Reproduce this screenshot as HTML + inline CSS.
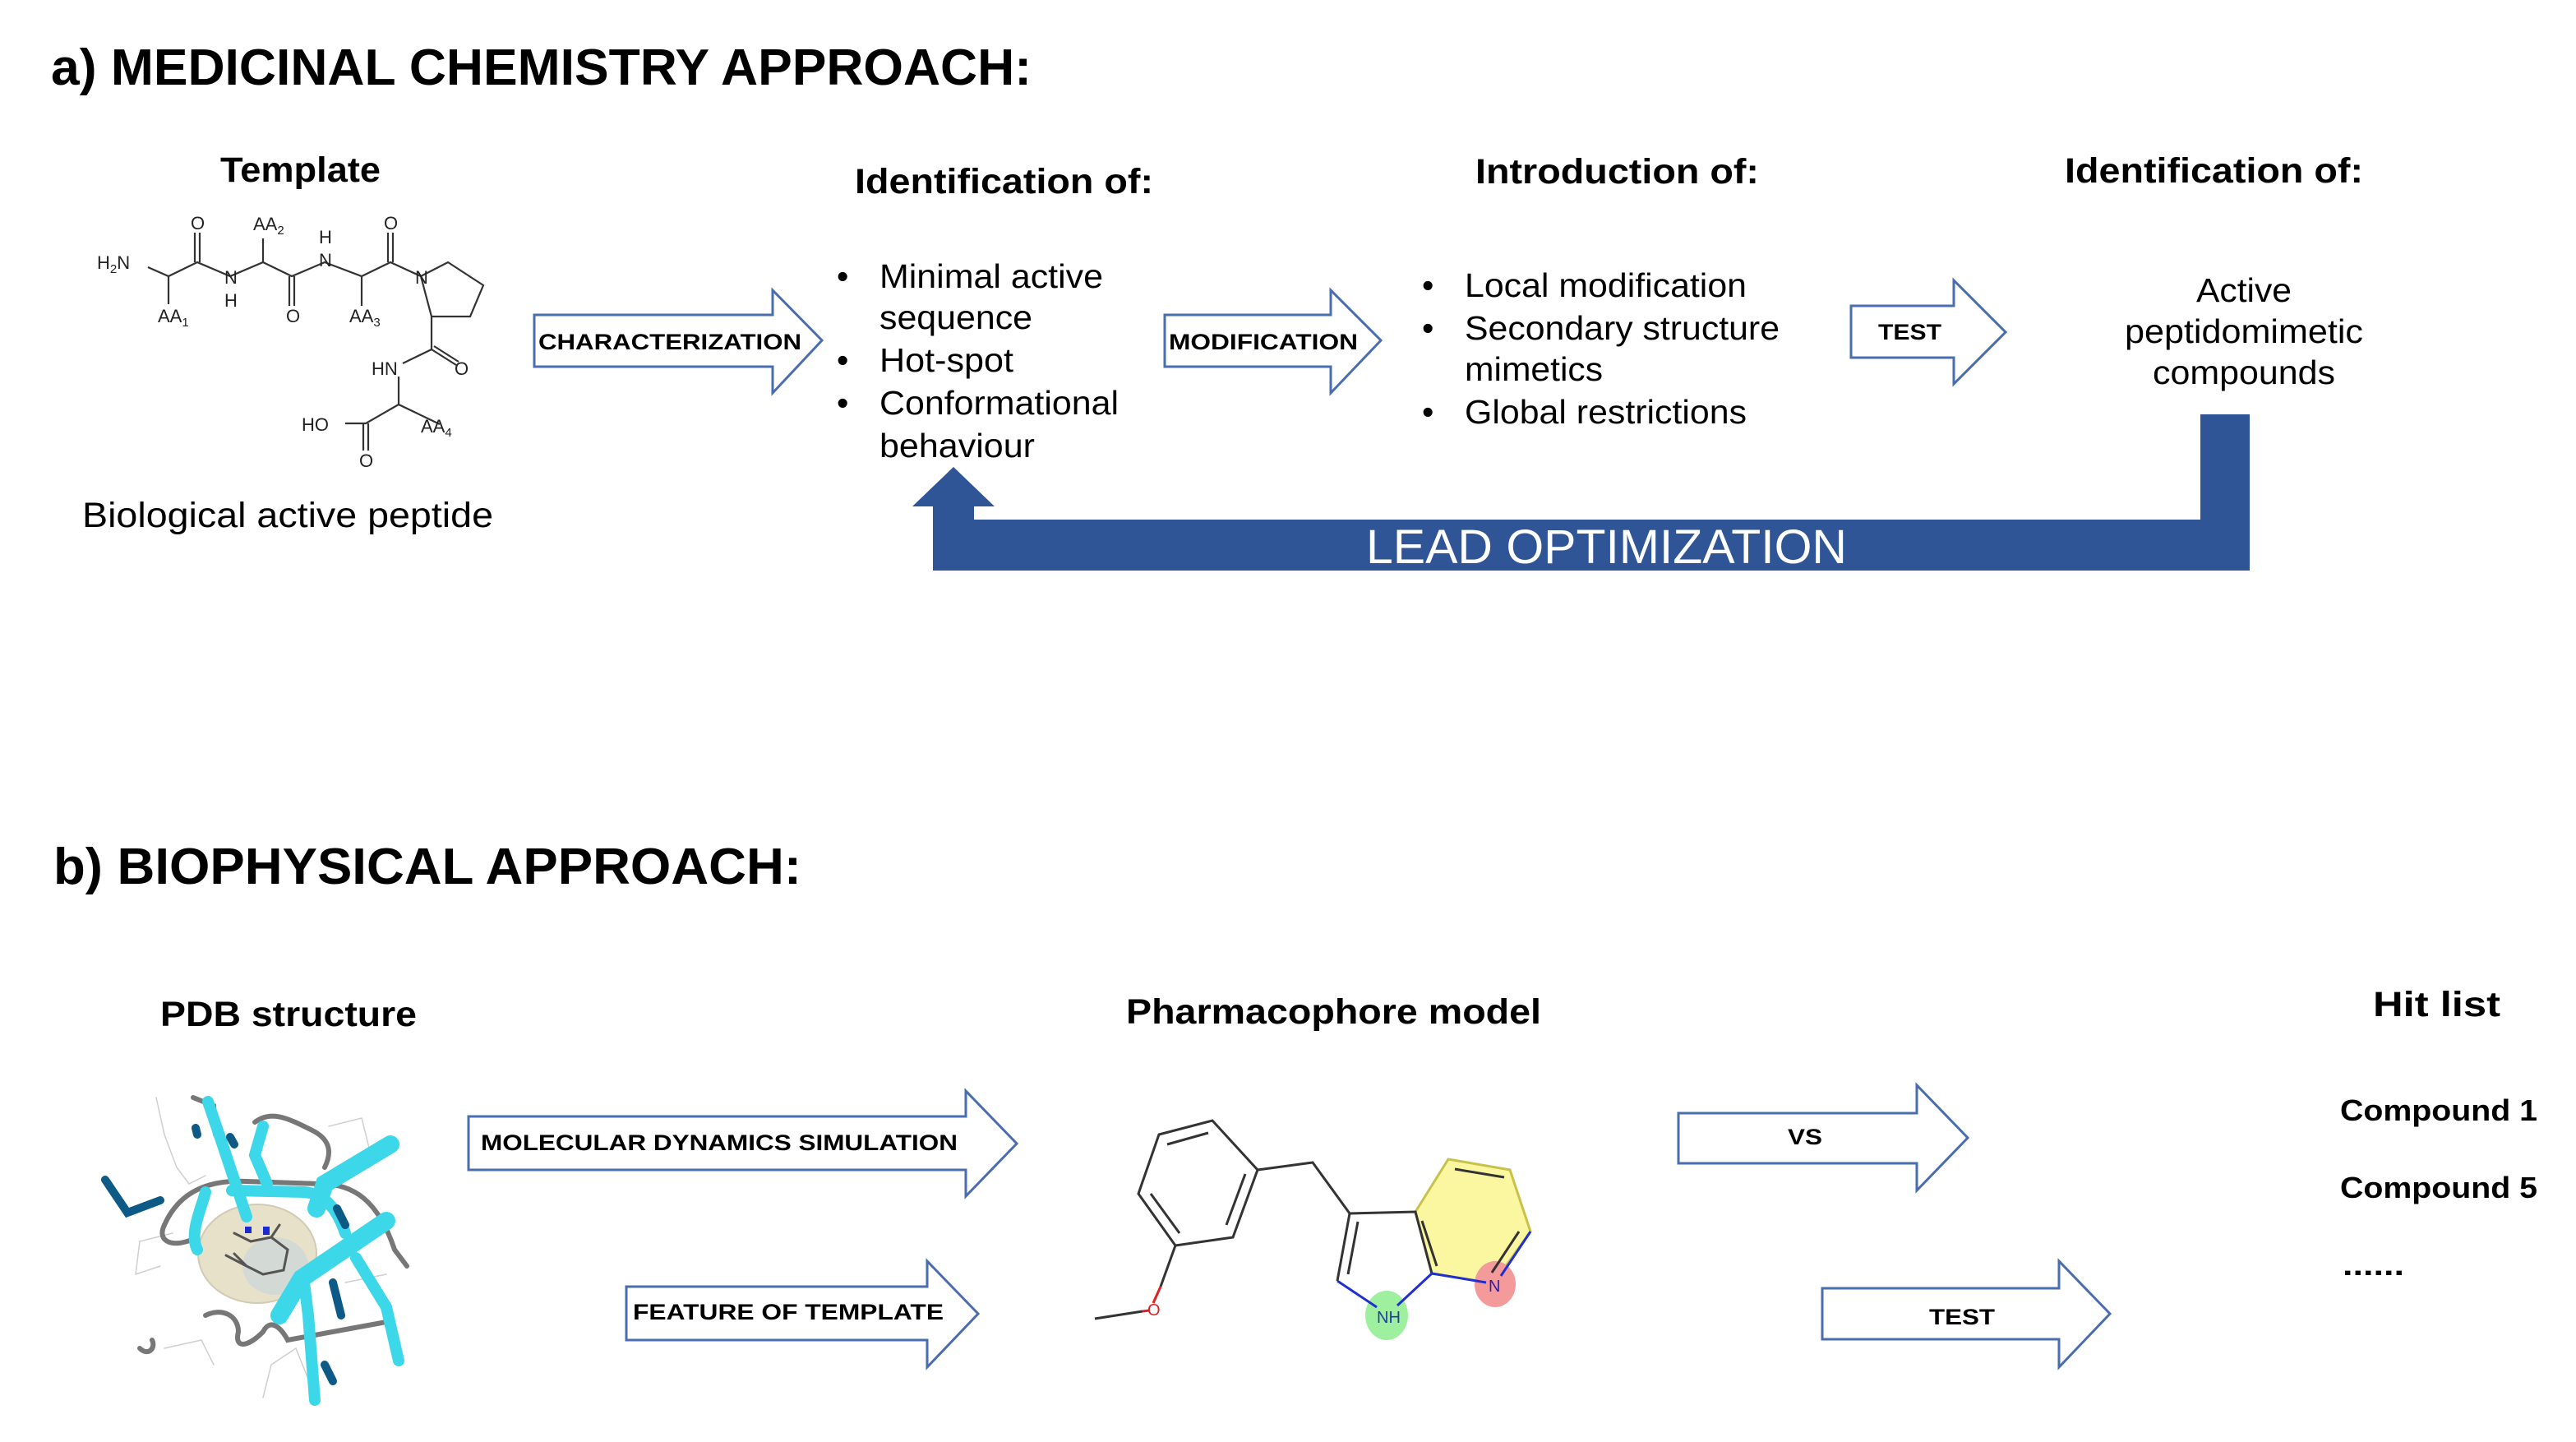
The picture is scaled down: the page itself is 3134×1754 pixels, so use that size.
<!DOCTYPE html>
<html><head><meta charset="utf-8"><style>
html,body{margin:0;padding:0;background:#fff;}
svg{display:block;}
text{font-family:"Liberation Sans",Arial,sans-serif;}
.b{font-weight:bold;}
.ar{fill:#fff;stroke:#4a6db0;stroke-width:3;}
.bd{stroke:#333;stroke-width:2.2;fill:none;}
.ch{font-size:22px;fill:#222;}
</style></head><body>
<svg width="3134" height="1754" viewBox="0 0 3134 1754" xmlns="http://www.w3.org/2000/svg">
<rect width="3134" height="1754" fill="#fff"/>

<!-- Section a -->
<text x="62" y="103" class="b" font-size="62" textLength="1193" lengthAdjust="spacingAndGlyphs">a) MEDICINAL CHEMISTRY APPROACH:</text>
<text x="268" y="221" class="b" font-size="43" textLength="195" lengthAdjust="spacingAndGlyphs">Template</text>

<!-- peptide structure -->
<g class="bd">
<path d="M180 325 L205 336 L240 319 L280 336 L320 319 L355 336 L395 319 L440 336 L475 319 L512 336"/>
<path d="M237 319 V283 M243 319 V283"/>
<path d="M205 336 V370"/>
<path d="M320 319 V290"/>
<path d="M352 336 V372 M358 336 V372"/>
<path d="M440 336 V372"/>
<path d="M472 319 V283 M478 319 V283"/>
<path d="M512 336 L545 319 L588 347 L572 385 L525 385 Z"/>
<path d="M525 385 L525 425 L490 442 M525 425 L555 444 M528 421 L558 440"/>
<path d="M485 458 L485 492 L535 516 M485 492 L445 515 L420 515 M442 515 V548 M448 515 V548"/>
</g>
<text x="118" y="327" class="ch">H<tspan font-size="15" dy="5">2</tspan><tspan dy="-5">N</tspan></text>
<text x="232" y="279" class="ch">O</text>
<text x="273" y="345" class="ch">N</text>
<text x="273" y="373" class="ch">H</text>
<text x="192" y="392" class="ch">AA<tspan font-size="15" dy="5">1</tspan></text>
<text x="308" y="280" class="ch">AA<tspan font-size="15" dy="5">2</tspan></text>
<text x="348" y="392" class="ch">O</text>
<text x="388" y="296" class="ch">H</text>
<text x="388" y="324" class="ch">N</text>
<text x="425" y="392" class="ch">AA<tspan font-size="15" dy="5">3</tspan></text>
<text x="467" y="279" class="ch">O</text>
<text x="505" y="345" class="ch">N</text>
<text x="452" y="456" class="ch">HN</text>
<text x="553" y="456" class="ch">O</text>
<text x="367" y="524" class="ch">HO</text>
<text x="512" y="526" class="ch">AA<tspan font-size="15" dy="5">4</tspan></text>
<text x="437" y="568" class="ch">O</text>

<text x="100" y="641" font-size="43" textLength="500" lengthAdjust="spacingAndGlyphs">Biological active peptide</text>

<!-- CHARACTERIZATION arrow -->
<path class="ar" d="M650 383 H940 V353 L1000 414 L940 478 V446 H650 Z"/>
<text x="655" y="425" class="b" font-size="27" textLength="320" lengthAdjust="spacingAndGlyphs">CHARACTERIZATION</text>

<text x="1040" y="235" class="b" font-size="43" textLength="363" lengthAdjust="spacingAndGlyphs">Identification of:</text>
<g font-size="41">
<text x="1018" y="350">•</text><text x="1070" y="350" textLength="272" lengthAdjust="spacingAndGlyphs">Minimal active</text>
<text x="1070" y="400" textLength="186" lengthAdjust="spacingAndGlyphs">sequence</text>
<text x="1018" y="452">•</text><text x="1070" y="452" textLength="163" lengthAdjust="spacingAndGlyphs">Hot-spot</text>
<text x="1018" y="504">•</text><text x="1070" y="504" textLength="291" lengthAdjust="spacingAndGlyphs">Conformational</text>
<text x="1070" y="556" textLength="189" lengthAdjust="spacingAndGlyphs">behaviour</text>
</g>

<!-- MODIFICATION arrow -->
<path class="ar" d="M1417 383 H1619 V353 L1680 414 L1619 478 V446 H1417 Z"/>
<text x="1422" y="425" class="b" font-size="27" textLength="230" lengthAdjust="spacingAndGlyphs">MODIFICATION</text>

<text x="1795" y="223" class="b" font-size="43" textLength="345" lengthAdjust="spacingAndGlyphs">Introduction of:</text>
<g font-size="41">
<text x="1730" y="361">•</text><text x="1782" y="361" textLength="343" lengthAdjust="spacingAndGlyphs">Local modification</text>
<text x="1730" y="413">•</text><text x="1782" y="413" textLength="383" lengthAdjust="spacingAndGlyphs">Secondary structure</text>
<text x="1782" y="463" textLength="168" lengthAdjust="spacingAndGlyphs">mimetics</text>
<text x="1730" y="515">•</text><text x="1782" y="515" textLength="343" lengthAdjust="spacingAndGlyphs">Global restrictions</text>
</g>

<!-- TEST arrow a -->
<path class="ar" d="M2252 372 H2377 V341 L2440 404 L2377 467 V435 H2252 Z"/>
<text x="2285" y="413" class="b" font-size="27" textLength="77" lengthAdjust="spacingAndGlyphs">TEST</text>

<text x="2512" y="222" class="b" font-size="43" textLength="363" lengthAdjust="spacingAndGlyphs">Identification of:</text>
<g font-size="41" text-anchor="middle">
<text x="2730" y="367" textLength="116" lengthAdjust="spacingAndGlyphs">Active</text>
<text x="2730" y="417" textLength="290" lengthAdjust="spacingAndGlyphs">peptidomimetic</text>
<text x="2730" y="467" textLength="222" lengthAdjust="spacingAndGlyphs">compounds</text>
</g>

<!-- LEAD OPTIMIZATION -->
<path fill="#2f5597" d="M1160 568 L1210 616 H1185 V632 H2677 V504 H2737 V694 H1135 V616 H1110 Z"/>
<text x="1662" y="685" fill="#fff" font-size="58" textLength="585" lengthAdjust="spacingAndGlyphs">LEAD OPTIMIZATION</text>

<!-- Section b -->
<text x="65" y="1075" class="b" font-size="62" textLength="910" lengthAdjust="spacingAndGlyphs">b) BIOPHYSICAL  APPROACH:</text>
<text x="195" y="1248" class="b" font-size="43" textLength="312" lengthAdjust="spacingAndGlyphs">PDB structure</text>

<!-- protein -->
<g fill="none" stroke-linecap="round">
<g stroke="#cfcfcf" stroke-width="1.5">
<path d="M190 1335 L200 1380 L215 1420 L230 1440 L250 1430 M210 1500 L170 1510 L165 1550 L195 1540 M200 1640 L245 1630 L260 1660 M320 1700 L330 1660 L360 1640 L380 1690 M400 1370 L440 1360 L450 1400 M420 1560 L470 1550"/>
</g>
<g stroke="#777" stroke-width="6">
<path d="M235 1335 L260 1345 L262 1380"/>
<path d="M310 1365 C330 1350 350 1360 380 1375 C400 1385 405 1400 395 1420"/>
<path d="M200 1490 C220 1445 260 1435 300 1437 L390 1440 C430 1440 460 1460 480 1520 L495 1540"/>
<path d="M200 1490 C190 1510 210 1520 240 1505"/>
<path d="M170 1640 C180 1650 190 1640 185 1630"/>
<path d="M250 1600 C270 1590 290 1600 290 1620 C285 1640 300 1640 320 1620 C330 1600 345 1620 350 1630 L470 1608"/>
</g>
<ellipse cx="313" cy="1525" rx="72" ry="60" fill="#e3dcc0" stroke="#c9c3a8" stroke-width="2" opacity="0.85"/>
<ellipse cx="335" cy="1540" rx="40" ry="35" fill="#c6d6e0" opacity="0.6"/>
<g stroke="#555" stroke-width="3">
<path d="M285 1500 L305 1510 L330 1505 L350 1520 L345 1545 L320 1550 L300 1540 L285 1525 M275 1527 L300 1540 M330 1505 L340 1490"/>
</g>
<rect x="298" y="1492" width="8" height="8" fill="#1a2acc"/><rect x="320" y="1492" width="8" height="10" fill="#1a2acc"/>
<g stroke="#3dd7ea" stroke-width="14">
<path d="M253 1340 L270 1390 L300 1480"/>
<path d="M320 1370 L310 1405 L325 1440"/>
<path d="M282 1448 L370 1450 C395 1452 410 1470 420 1500"/>
<path d="M383 1703 L375 1600 L370 1560"/>
<path d="M433 1530 L470 1590 L485 1655"/>
<path d="M240 1520 C230 1500 245 1470 250 1450"/>
</g>
<g stroke="#3dd7ea" stroke-width="22">
<path d="M475 1392 L395 1440 L385 1470"/>
<path d="M470 1485 L367 1555 L340 1600"/>
</g>
<g stroke="#0e5a86" stroke-width="10">
<path d="M128 1435 L155 1475 L195 1460"/>
<path d="M238 1372 L240 1380 M280 1383 L285 1392"/>
<path d="M410 1470 L420 1490 M405 1560 L415 1600"/>
<path d="M395 1660 L405 1680"/>
</g>
</g>

<!-- MD arrow -->
<path class="ar" d="M570 1358 H1175 V1327 L1237 1391 L1175 1455 V1423 H570 Z"/>
<text x="585" y="1399" class="b" font-size="27" textLength="580" lengthAdjust="spacingAndGlyphs">MOLECULAR DYNAMICS SIMULATION</text>

<!-- Feature arrow -->
<path class="ar" d="M762 1565 H1128 V1534 L1190 1598 L1128 1663 V1630 H762 Z"/>
<text x="770" y="1605" class="b" font-size="27" textLength="378" lengthAdjust="spacingAndGlyphs">FEATURE OF TEMPLATE</text>

<text x="1370" y="1245" class="b" font-size="43" textLength="505" lengthAdjust="spacingAndGlyphs">Pharmacophore model</text>

<!-- pharmacophore molecule -->
<path d="M1722 1474 L1762 1410 L1837 1423 L1862 1498 L1817 1561 L1742 1549 Z" fill="#fbf7a0" stroke="#c8c24a" stroke-width="3"/>
<ellipse cx="1687" cy="1600" rx="26" ry="30" fill="#9ef09e"/>
<ellipse cx="1819" cy="1562" rx="25" ry="28" fill="#f59a9a"/>
<g stroke="#333" stroke-width="3" fill="none">
<path d="M1410 1380 L1475 1363 L1530 1423 L1500 1505 L1430 1515 L1385 1452 Z"/>
<path d="M1420 1392 L1470 1378 M1515 1428 L1492 1490 M1435 1500 L1400 1452"/>
<path d="M1530 1423 L1597 1414 L1642 1476 L1722 1474 L1742 1549"/>
<path d="M1642 1476 L1627 1558 M1652 1486 L1640 1550"/>
<path d="M1730 1485 L1748 1540 M1770 1422 L1830 1432 M1848 1498 L1815 1548"/>
<path d="M1430 1515 L1412 1565"/>
</g>
<path d="M1412 1565 L1403 1585" stroke="#e02020" stroke-width="3"/>
<path d="M1332 1604 L1390 1595" stroke="#333" stroke-width="3"/>
<path d="M1390 1595 L1398 1594" stroke="#e02020" stroke-width="3"/>
<text x="1396" y="1600" font-size="20" fill="#e02020">O</text>
<path d="M1627 1558 L1675 1590" stroke="#2030d0" stroke-width="3"/>
<path d="M1742 1549 L1700 1588" stroke="#2030d0" stroke-width="3"/>
<path d="M1742 1549 L1808 1560" stroke="#2030d0" stroke-width="3"/>
<path d="M1862 1498 L1826 1552" stroke="#2030d0" stroke-width="3"/>
<text x="1675" y="1609" font-size="20" fill="#2040a0">NH</text>
<text x="1811" y="1571" font-size="20" fill="#3020a0">N</text>

<!-- VS arrow -->
<path class="ar" d="M2042 1354 H2332 V1320 L2394 1384 L2332 1448 V1415 H2042 Z"/>
<text x="2175" y="1392" class="b" font-size="27" textLength="42" lengthAdjust="spacingAndGlyphs">VS</text>

<!-- TEST arrow b -->
<path class="ar" d="M2217 1567 H2505 V1534 L2567 1598 L2505 1663 V1629 H2217 Z"/>
<text x="2347" y="1611" class="b" font-size="27" textLength="80" lengthAdjust="spacingAndGlyphs">TEST</text>

<text x="2887" y="1236" class="b" font-size="43" textLength="155" lengthAdjust="spacingAndGlyphs">Hit  list</text>
<text x="2847" y="1363" class="b" font-size="36" textLength="240" lengthAdjust="spacingAndGlyphs">Compound 1</text>
<text x="2847" y="1457" class="b" font-size="36" textLength="240" lengthAdjust="spacingAndGlyphs">Compound 5</text>
<text x="2850" y="1551" class="b" font-size="36" textLength="75" lengthAdjust="spacingAndGlyphs">......</text>
</svg>
</body></html>
